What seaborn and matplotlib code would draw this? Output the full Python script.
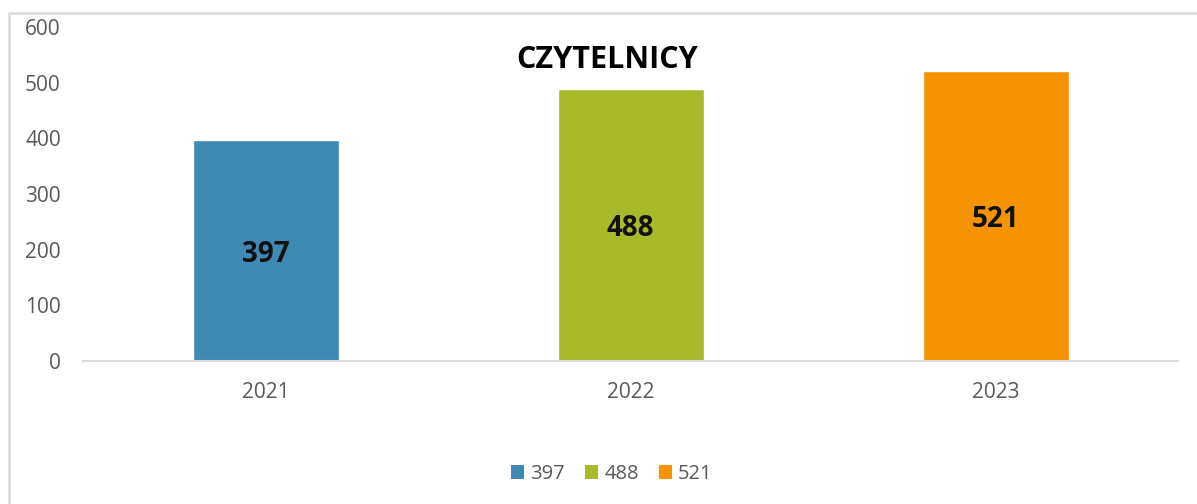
import matplotlib
matplotlib.use("Agg")
import matplotlib.pyplot as plt
from matplotlib.patches import Rectangle, Patch
import seaborn as sns
import pandas as pd

years = ["2021", "2022", "2023"]
readers = [397, 488, 521]
colors = ["#3f8ab4", "#a8b92a", "#f59300"]
title = "CZYTELNICY"

sns.set_theme(style="white")
plt.rcParams["font.family"] = ["Open Sans", "DejaVu Sans"]

df = pd.DataFrame({"year": years, "readers": readers})

fig = plt.figure(figsize=(11.97, 5.04), dpi=100)
ax = fig.add_axes([83 / 1197, 1 - 361 / 504, (1178 - 83) / 1197, (361 - 27) / 504])

sns.barplot(data=df, x="year", y="readers", hue="year", palette=colors,
            width=0.4, saturation=1, legend=False, ax=ax)

ax.set_ylim(0, 600)
ax.set_xlim(-0.5, 2.5)
ax.set_yticks(range(0, 601, 100))
ax.set_xlabel("")
ax.set_ylabel("")
for s in ["top", "right", "left"]:
    ax.spines[s].set_visible(False)
ax.spines["bottom"].set_color("#d9d9d9")
ax.spines["bottom"].set_linewidth(1.5)
ax.tick_params(axis="both", length=0, labelsize=15, colors="#595959")
ax.tick_params(axis="y", pad=16)
ax.tick_params(axis="x", pad=15)

for i, v in enumerate(readers):
    ax.text(i, v / 2, str(v), ha="center", va="center_baseline",
            fontsize=20, fontweight="bold", color="#111111")

ax.text(0.479, 0.9, title, transform=ax.transAxes, ha="center", va="center",
        fontsize=22, fontweight="bold", color="black")

handles = [Patch(facecolor=c, edgecolor="none", label=str(v)) for c, v in zip(colors, readers)]
fig.legend(handles=handles, loc="center", bbox_to_anchor=(612 / 1197, 1 - 474 / 504),
           ncol=3, frameon=False, fontsize=14.5, handlelength=0.65, handleheight=0.65,
           handletextpad=0.3, columnspacing=1.0, labelcolor="#595959")

# chart frame (light gray, runs off right and bottom)
fig.patches.append(Rectangle((9 / 1197, -0.1), 1.2, 1 - 13 / 504 + 0.1,
                             transform=fig.transFigure, fill=False,
                             edgecolor="#d9d9d9", linewidth=1.8))

fig.savefig("out.png", dpi=100)
